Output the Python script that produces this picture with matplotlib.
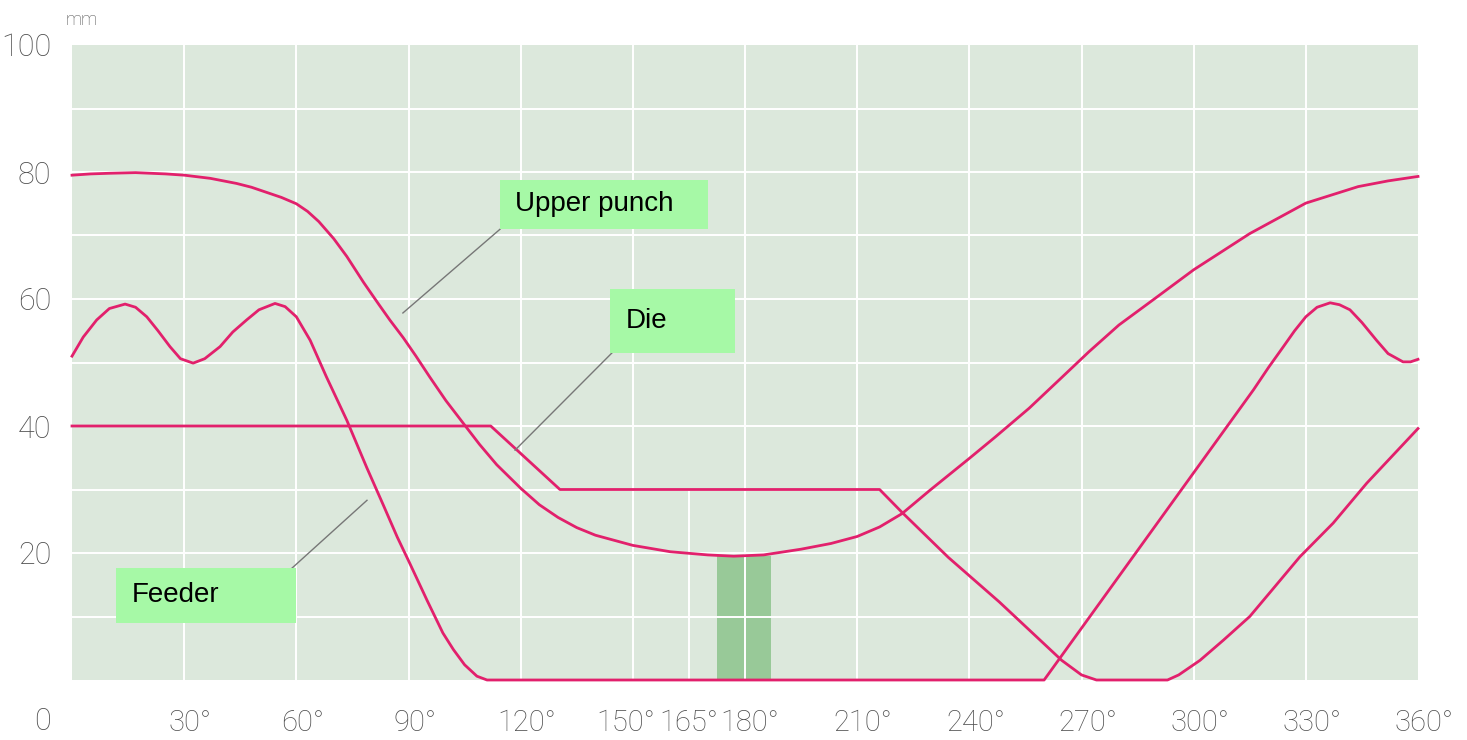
import matplotlib.pyplot as plt
import matplotlib.transforms as mtransforms
from matplotlib.patches import Rectangle

# 角度 (deg) と変位 (mm)
angle_punch = [0, 5, 10, 17, 25, 30, 37, 44, 48, 53, 56, 60, 63, 66, 70, 73.5, 78, 82, 85, 88.6,
               92, 95.7, 100, 105.6, 109, 113.6, 120, 125, 130, 135, 140, 150, 160, 170, 177,
               185, 195, 203, 210, 216, 222, 229.5, 240, 247, 256, 265, 272, 280, 289, 300,
               315, 330, 344, 352, 360]
punch = [79.5, 79.7, 79.8, 79.9, 79.7, 79.5, 79.0, 78.2, 77.6, 76.6, 76.0, 75, 73.8, 72.2, 69.5,
         66.7, 62.6, 59.2, 56.7, 53.9, 51.0, 47.7, 44.0, 39.7, 37.1, 33.9, 30.2, 27.6, 25.6,
         24, 22.8, 21.2, 20.2, 19.7, 19.5, 19.7, 20.6, 21.5, 22.6, 24.1, 26.2, 29.9, 34.9,
         38.3, 42.8, 47.8, 51.7, 55.9, 59.8, 64.6, 70.3, 75.1, 77.7, 78.6, 79.3]

angle_feeder = [0, 3, 6.6, 10, 14.2, 17, 20, 23, 26.2, 29, 32.4, 35.5, 39.6, 43, 46.7, 50, 54.3,
                57, 60, 63.7, 68, 73.5, 78.8, 83.3, 87, 90.4, 95, 99.2, 102, 105, 108.3, 111,
                260, 316, 320, 324, 327, 330, 333, 336.5, 339, 341.8, 345, 348.9, 352, 356,
                358, 360]
feeder = [51, 54, 56.7, 58.5, 59.2, 58.7, 57.2, 55, 52.5, 50.6, 49.9, 50.6, 52.5, 54.8, 56.7,
          58.3, 59.3, 58.8, 57.2, 53.5, 47.8, 40.9, 33.5, 27.5, 22.5, 18.3, 12.5, 7.4, 4.8,
          2.4, 0.6, 0, 0, 45.7, 49.2, 52.5, 55, 57.2, 58.7, 59.4, 59.1, 58.3, 56.3, 53.5,
          51.4, 50.1, 50.1, 50.5]

angle_die = [0, 112, 130.5, 216, 222, 234.4, 248, 264.7, 270, 274, 293, 296, 301.7, 308, 315,
             321, 328.4, 337.3, 346.3, 360]
die = [40, 40, 30, 30, 26.4, 19.3, 12.3, 3.1, 0.8, 0, 0, 0.8, 3.1, 6.3, 10, 14.2, 19.4, 24.7,
       31, 39.6]

band = [172.5, 187]
band_top = 19.5

xticks = [30, 60, 90, 120, 150, 165, 180, 210, 240, 270, 300, 330, 360]
yticks = [20, 40, 60, 80, 100]

labels = ["Upper punch", "Die", "Feeder"]
label_boxes = [(114.5, 71.0, 55.6, 7.7), (143.9, 51.5, 33.4, 10.1), (11.8, 9.0, 48.1, 8.6)]
label_text = [(118.5, 74.9), (148.2, 56.5), (16.0, 13.4)]
leaders = [((114.5, 88.5), (71.0, 57.8)), ((144.4, 118.5), (51.5, 36.2)), ((58.8, 78.9), (17.6, 28.3))]

red = "#e2206c"
bg = "#dce8dc"
gray = "#4e4e4e"
tick_font = ["Roboto", "DejaVu Sans"]

fig = plt.figure(figsize=(14.67, 7.40), dpi=100)
ax = fig.add_axes([72/1467, 60/740, 1346/1467, 635/740])
ax.set_facecolor(bg)
ax.set_xlim(0, 360)
ax.set_ylim(0, 100)
for s in ax.spines.values():
    s.set_visible(False)

# グリッド
for gx in range(30, 360, 30):
    ax.axvline(gx, color="white", lw=1.4, zorder=1.5)
ax.axvline(165, ymax=0.3, color="white", lw=1.4, zorder=1.5)
for gy in range(10, 100, 10):
    ax.axhline(gy, color="white", lw=1.4, zorder=1.5)

ax.fill_between(band, 0, band_top, color="#98c998", lw=0, zorder=1)

ax.plot(angle_punch, punch, color=red, lw=2.0, zorder=2, clip_on=False)
ax.plot(angle_feeder, feeder, color=red, lw=2.0, zorder=2, clip_on=False)
ax.plot(angle_die, die, color=red, lw=2.0, zorder=2, clip_on=False)

for (x0, y0, w, h), (tx, ty), (lx, ly), name in zip(label_boxes, label_text, leaders, labels):
    ax.plot(lx, ly, color="#777777", lw=1.0, zorder=3)
    ax.add_patch(Rectangle((x0, y0), w, h, facecolor="#a6f9a6", edgecolor="none", zorder=4))
    ax.text(tx, ty, name, fontsize=20, family=["Liberation Sans", "DejaVu Sans"],
            va="center", ha="left", zorder=5)

ax.set_xticks(xticks)
ax.set_xticklabels([f"{t}°" for t in xticks], fontsize=21, family=tick_font,
                   fontweight="light", color=gray)
ax.set_yticks(yticks)
ax.set_yticklabels([str(t) for t in yticks], fontsize=22, family=tick_font,
                   fontweight="light", color=gray)
ax.tick_params(axis="x", length=0, pad=21)
ax.tick_params(axis="y", length=0, pad=15)
shift = {150: -0.07, 165: 0.0, 180: 0.05}
for t, lab in zip(xticks, ax.get_xticklabels()):
    off = mtransforms.ScaledTranslation(shift.get(t, 0.06), 0, fig.dpi_scale_trans)
    lab.set_transform(lab.get_transform() + off)

fig.text(42/1467, 1 - 722/740, "0", fontsize=22, family=tick_font, fontweight="light",
         color=gray, ha="center", va="center")
fig.text(66/1467, 1 - 20/740, "mm", fontsize=13, family=tick_font, fontweight="light",
         color=gray, ha="left", va="center")

plt.savefig("out.png")
